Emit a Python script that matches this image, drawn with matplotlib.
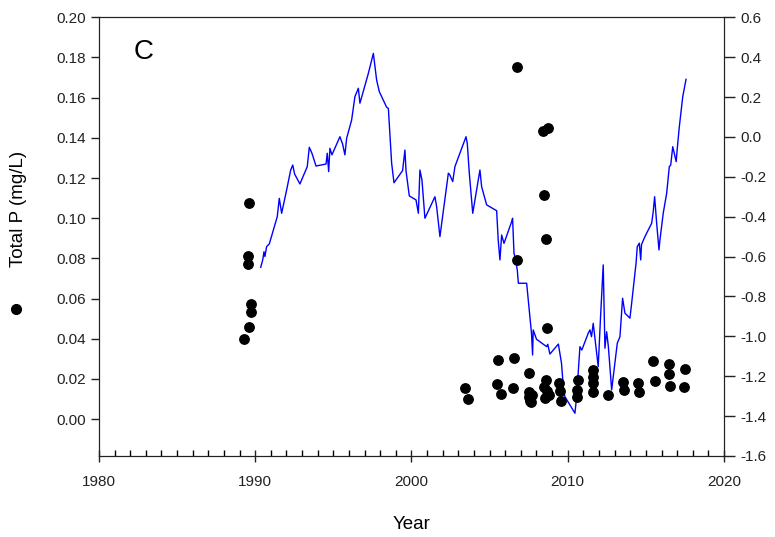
import matplotlib.pyplot as plt
from matplotlib.ticker import MultipleLocator

plt.rcParams['font.family'] = ['Liberation Sans', 'DejaVu Sans']

# Total P samples (left axis)
p_year = [1989.6, 1989.56, 1989.56, 1989.71, 1989.71, 1989.6, 1989.28,
          2006.73, 2008.43, 2008.75, 2008.5, 2008.6, 2006.73, 2008.67,
          2003.4, 2003.61, 2005.55, 2006.56, 2005.49, 2005.7, 2006.5,
          2007.5, 2007.5, 2007.55, 2007.6, 2007.65, 2007.7, 2007.6,
          2008.6, 2008.5, 2008.7, 2008.55, 2008.8,
          2009.46, 2009.5, 2009.55,
          2010.67, 2010.57, 2010.57,
          2011.6, 2011.6, 2011.63, 2011.6,
          2012.6, 2013.56, 2013.63, 2014.5, 2014.56,
          2015.47, 2015.56, 2016.5, 2016.5, 2016.54, 2017.48, 2017.42]
p_val = [0.1075, 0.0812, 0.0773, 0.0574, 0.0532, 0.0461, 0.0401,
         0.1754, 0.1436, 0.1448, 0.1114, 0.0896, 0.0793, 0.0453,
         0.0154, 0.0100, 0.0295, 0.0303, 0.0176, 0.0126, 0.0157,
         0.0232, 0.0135, 0.0110, 0.0090, 0.0085, 0.0120, 0.0100,
         0.0196, 0.0162, 0.0140, 0.0104, 0.0120,
         0.0179, 0.0140, 0.0088,
         0.0196, 0.0146, 0.0112,
         0.0245, 0.0212, 0.0179, 0.0137,
         0.0121, 0.0187, 0.0146, 0.0179, 0.0137,
         0.0287, 0.0192, 0.0275, 0.0225, 0.0166, 0.0249, 0.0162]

# blue series (right axis)
s_year = [1990.35, 1990.48, 1990.56, 1990.62, 1990.73, 1990.9, 1991.41, 1991.54,
          1991.69, 1992.01, 1992.27, 1992.4, 1992.52, 1992.86, 1993.33, 1993.46,
          1993.63, 1993.89, 1994.53, 1994.61, 1994.7, 1994.78, 1994.91, 1995.42,
          1995.59, 1995.74, 1995.85, 1996.17, 1996.38, 1996.6, 1996.7, 1996.81,
          1997.24, 1997.56, 1997.77, 1997.94, 1998.41, 1998.52, 1998.73, 1998.88,
          1999.43, 1999.58, 1999.65, 1999.86, 2000.29, 2000.44, 2000.54, 2000.67,
          2000.86, 2001.5, 2001.61, 2001.82, 2002.36, 2002.45, 2002.64, 2002.78,
          2003.1, 2003.49, 2003.57, 2003.7, 2003.92, 2004.38, 2004.49, 2004.81,
          2005.45, 2005.55, 2005.66, 2005.77, 2005.92, 2006.41, 2006.47, 2006.56,
          2006.62, 2006.77, 2006.84, 2007.37, 2007.68, 2007.75, 2007.79, 2008.0,
          2008.65, 2008.72, 2008.86, 2009.4, 2009.6, 2009.73, 2009.82, 2010.46,
          2010.57, 2010.78, 2010.9, 2011.31, 2011.42, 2011.52, 2011.63, 2011.95,
          2012.1, 2012.23, 2012.27, 2012.38, 2012.49, 2012.6, 2012.81, 2013.17,
          2013.34, 2013.51, 2013.66, 2013.98, 2014.09, 2014.37, 2014.45, 2014.58,
          2014.67, 2014.72, 2014.94, 2015.37, 2015.47, 2015.56, 2015.69, 2015.84,
          2015.9, 2016.11, 2016.33, 2016.5, 2016.59, 2016.72, 2016.94, 2017.01,
          2017.14, 2017.36, 2017.57]
s_val = [-0.654, -0.617, -0.576, -0.600, -0.550, -0.537, -0.400, -0.308,
         -0.383, -0.266, -0.166, -0.141, -0.186, -0.236, -0.149, -0.052,
         -0.082, -0.146, -0.136, -0.082, -0.174, -0.057, -0.090, 0.001,
         -0.035, -0.090, -0.007, 0.085, 0.202, 0.244, 0.169, 0.199,
         0.319, 0.419, 0.285, 0.227, 0.149, 0.143, -0.132, -0.230,
         -0.169, -0.066, -0.170, -0.296, -0.316, -0.383, -0.166, -0.216,
         -0.408, -0.300, -0.350, -0.500, -0.182, -0.190, -0.224, -0.149,
         -0.082, 0.001, -0.032, -0.182, -0.383, -0.166, -0.250, -0.341,
         -0.370, -0.517, -0.617, -0.492, -0.534, -0.425, -0.408, -0.584,
         -0.600, -0.667, -0.734, -0.734, -0.985, -1.094, -0.968, -1.015,
         -1.052, -1.040, -1.089, -1.039, -1.135, -1.269, -1.303, -1.386,
         -1.303, -1.052, -1.069, -0.985, -0.968, -1.002, -0.935, -1.152,
         -0.902, -0.700, -0.642, -1.060, -0.977, -1.052, -1.269, -1.035,
         -1.002, -0.809, -0.884, -0.909, -0.834, -0.634, -0.550, -0.533,
         -0.617, -0.540, -0.500, -0.433, -0.375, -0.300, -0.433, -0.567,
         -0.517, -0.383, -0.283, -0.149, -0.141, -0.049, -0.124, -0.057,
         0.051, 0.202, 0.289]

fig = plt.figure(figsize=(7.75, 5.37), dpi=100)
ax = fig.add_axes([0.1277, 0.151, 0.8065, 0.8168])
ax2 = ax.twinx()

ax2.plot(s_year, s_val, color='#0000ff', linewidth=1.0)
ax.scatter(p_year, p_val, s=46, color='black', zorder=3)

# dots drawn above the blue line
ax.set_zorder(ax2.get_zorder() + 1)
ax.patch.set_visible(False)

ax.set_xlim(1980, 2020)
ax.set_ylim(-0.0183, 0.20)
ax2.set_ylim(-1.6, 0.6)

ax.xaxis.set_major_locator(MultipleLocator(10))
ax.xaxis.set_minor_locator(MultipleLocator(1))
ax2.yaxis.set_major_locator(MultipleLocator(0.2))
ax.set_yticks([i * 0.02 for i in range(11)])
ax.yaxis.set_major_formatter(plt.FuncFormatter(lambda v, p: f'{v:.2f}'))
ax2.yaxis.set_major_formatter(plt.FuncFormatter(lambda v, p: f'{v:.1f}'))

ax.tick_params(axis='x', which='major', direction='inout', length=9, width=1,
               labelsize=11, pad=9, colors='#222222')
ax.tick_params(axis='x', which='minor', direction='in', length=4, width=1)
ax.tick_params(axis='y', direction='out', length=6, width=1, labelsize=11,
               colors='#222222')
ax2.tick_params(axis='y', direction='out', length=8, width=1, labelsize=11,
                colors='#222222')

for sp in ax.spines.values():
    sp.set_color('#222222')
for sp in ax2.spines.values():
    sp.set_color('#222222')

ax.set_xlabel('Year', fontsize=13.5, labelpad=20)
fig.text(0.024, 0.61, 'Total P (mg/L)', rotation=90, fontsize=13.5,
         ha='center', va='center')
# legend symbol below the axis label
fig.add_artist(plt.Line2D([0.021], [0.424], marker='o', markersize=7,
                          color='black', linestyle='none',
                          transform=fig.transFigure))
ax.text(0.055, 0.92, 'C', transform=ax.transAxes, fontsize=20,
        ha='left', va='center')

fig.savefig('out.png', dpi=100)
